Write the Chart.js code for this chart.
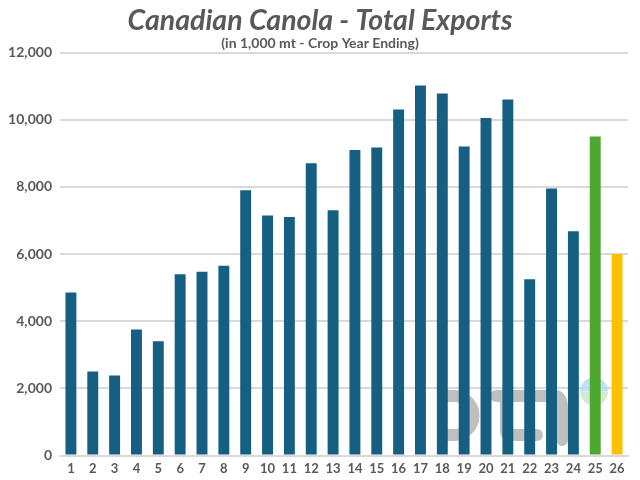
<!DOCTYPE html>
<html><head><meta charset="utf-8">
<style>html,body{margin:0;padding:0;background:#fff}canvas{display:block}</style>
<script src="https://cdn.jsdelivr.net/npm/chart.js@4"></script></head>
<body><canvas id="c" width="640" height="480"></canvas>
<script>
const categories = ["1","2","3","4","5","6","7","8","9","10","11","12","13","14","15","16","17","18","19","20","21","22","23","24","25","26"];
const exportsKmt = [4850,2500,2380,3750,3400,5400,5470,5650,7900,7150,7100,8700,7300,9100,9170,10300,11020,10780,9200,10050,10600,5250,7950,6680,9500,6000];
const barColors = categories.map((c,i)=> i===24 ? "#4EA72E" : i===25 ? "#FFC000" : "#156082");
const titleText = "Canadian Canola - Total Exports";
const subtitleText = "(in 1,000 mt - Crop Year Ending)";
const FONT = "Lato, sans-serif";
const TEXT = "#595959";

const watermark = {
  id:"watermark",
  beforeDatasetsDraw(chart){
    const g = chart.ctx;
    g.save();
    g.strokeStyle = "#BFBFBF"; g.lineWidth = 12; g.lineJoin="round"; g.lineCap="round";
    g.beginPath(); g.moveTo(445,396); g.lineTo(454,396);
    g.arc(454,415.5,19.5,-Math.PI/2,Math.PI/2); g.lineTo(445,435); g.stroke();
    g.beginPath(); g.moveTo(496,396); g.lineTo(556,396); g.quadraticCurveTo(562,397,562,410); g.lineTo(562,440); g.stroke();
    g.beginPath(); g.moveTo(506,396); g.lineTo(506,431); g.quadraticCurveTo(506,435,512,435); g.lineTo(537,435); g.stroke();
    g.globalAlpha = .85;
    g.fillStyle="#B5DDF3"; g.beginPath(); g.arc(594,391.5,14,Math.PI,0); g.fill();
    g.fillStyle="#CBE8C4"; g.beginPath(); g.arc(594,391.5,14,0,Math.PI); g.fill();
    g.restore();
  }
};

new Chart(document.getElementById("c"),{
  type:"bar",
  data:{labels:categories,datasets:[{data:exportsKmt,backgroundColor:barColors,barPercentage:.5,categoryPercentage:1}]},
  plugins:[watermark],
  options:{
    responsive:false,animation:false,
    plugins:{
      legend:{display:false},tooltip:{enabled:false},
      title:{display:true,text:titleText,color:TEXT,font:{family:FONT,size:28.5,weight:"bold",style:"italic",lineHeight:33.6/28.5},padding:{top:4,bottom:-3}},
      subtitle:{display:true,text:subtitleText,color:TEXT,font:{family:FONT,size:14,weight:"bold"},padding:{top:0,bottom:1.1}}
    },
    scales:{
      y:{min:0,max:12000,
        ticks:{stepSize:2000,color:TEXT,padding:8,font:{family:FONT,size:14,weight:"bold"},callback:v=>v.toLocaleString("en-US")},
        grid:{color:"#D9D9D9",lineWidth:2,drawTicks:false},border:{display:false},
        afterFit(s){s.width=60}},
      right:{position:"right",min:0,max:12000,
        ticks:{display:false},grid:{display:false,drawTicks:false},border:{display:false},
        afterFit(s){s.width=12}},
      x:{ticks:{color:TEXT,padding:6,maxRotation:0,autoSkip:false,font:{family:FONT,size:13,weight:"bold"}},
        grid:{display:false,drawTicks:false},border:{color:"#D9D9D9",width:2},
        afterFit(s){s.height=24.5}}
    }
  }
});
</script></body></html>
